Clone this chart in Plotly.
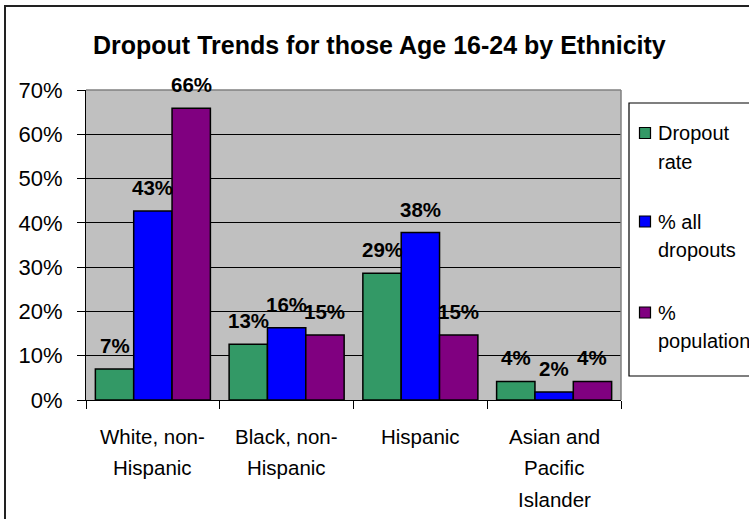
import plotly.graph_objects as go

# ---- data -------------------------------------------------------------
categories = ["White, non-Hispanic", "Black, non-Hispanic", "Hispanic",
              "Asian and Pacific Islander"]
category_lines = [["White, non-", "Hispanic"],
                  ["Black, non-", "Hispanic"],
                  ["Hispanic"],
                  ["Asian and", "Pacific", "Islander"]]

series_names = ["Dropout rate", "% all dropouts", "% population"]
legend_lines = [["Dropout", "rate"], ["% all", "dropouts"], ["%", "population"]]

dropout_rate = [0.070, 0.126, 0.286, 0.042]
pct_all_dropouts = [0.427, 0.163, 0.378, 0.018]
pct_population = [0.659, 0.147, 0.147, 0.042]
series_values = [dropout_rate, pct_all_dropouts, pct_population]

y_ticks = [0, 0.1, 0.2, 0.3, 0.4, 0.5, 0.6, 0.7]

# ---- styling ----------------------------------------------------------
colors = ["#339966", "#0000FF", "#800080"]
FONT = "Liberation Sans, Arial, Helvetica, sans-serif"
W, H = 749, 519
L, R, T, B = 86, 621, 90, 400          # plot area in pixels
BARGAP = 0.14


def px(x):
    return (x - L) / (R - L)


def py(y):
    return (B - y) / (B - T)


fig = go.Figure()
for name, vals, col in zip(series_names, series_values, colors):
    fig.add_trace(go.Bar(
        x=categories, y=vals, name=name,
        marker=dict(color=col, line=dict(color="black", width=1.5)),
        showlegend=False,
    ))

annotations = []

# value labels above each bar
bar_w = (1 - BARGAP) / len(series_names)
for j, vals in enumerate(series_values):
    for i, v in enumerate(vals):
        annotations.append(dict(
            x=i + (j - (len(series_names) - 1) / 2) * bar_w, y=v,
            xref="x", yref="y", text=f"{v:.0%}", showarrow=False,
            yanchor="bottom", yshift=10,
            font=dict(family=FONT, size=20.5, color="black", weight="bold"),
        ))

# category labels, one annotation per line
for i, lines in enumerate(category_lines):
    for k, line in enumerate(lines):
        annotations.append(dict(
            x=i, y=py(436 + k * 31.5), xref="x", yref="paper",
            text=line, showarrow=False, yanchor="middle",
            font=dict(family=FONT, size=20.5, color="black"),
        ))

# title
annotations.append(dict(
    x=px(379), y=py(45), xref="paper", yref="paper",
    text="Dropout Trends for those Age 16-24 by Ethnicity",
    showarrow=False, yanchor="middle", xanchor="center",
    font=dict(family=FONT, size=25, color="black", weight="bold"),
))

shapes = [
    # outer chart frame
    dict(type="rect", xref="paper", yref="paper",
         x0=px(5), x1=px(780), y0=py(6), y1=py(560),
         line=dict(color="#222222", width=2)),
    # top and right border of plot area
    dict(type="line", xref="paper", yref="paper", x0=0, x1=1, y0=1, y1=1,
         line=dict(color="#808080", width=1.5)),
    dict(type="line", xref="paper", yref="paper", x0=1, x1=1, y0=0, y1=1,
         line=dict(color="#808080", width=1.5)),
    # legend box
    dict(type="rect", xref="paper", yref="paper",
         x0=px(629), x1=px(790), y0=py(103), y1=py(376),
         line=dict(color="black", width=1.2), fillcolor="white"),
]

entry_top = [133, 221.5, 312.5]
for (lines, col, yc) in zip(legend_lines, colors, entry_top):
    shapes.append(dict(type="rect", xref="paper", yref="paper",
                       x0=px(639.5), x1=px(650.5), y0=py(yc - 5.5), y1=py(yc + 5.5),
                       line=dict(color="black", width=1.2), fillcolor=col))
    for k, line in enumerate(lines):
        annotations.append(dict(
            x=px(656), y=py(yc + k * 28.5), xref="paper", yref="paper",
            text=line, showarrow=False, xanchor="left", yanchor="middle",
            font=dict(family=FONT, size=20, color="black"),
        ))

fig.update_layout(
    width=W, height=H,
    margin=dict(l=L, r=W - R, t=T, b=H - B, pad=0),
    paper_bgcolor="white", plot_bgcolor="#C0C0C0",
    barmode="group", bargap=BARGAP, bargroupgap=0,
    font=dict(family=FONT, color="black"),
    annotations=annotations, shapes=shapes,
    xaxis=dict(type="category", showticklabels=False, tickson="boundaries",
               ticks="outside", ticklen=8, tickcolor="black", tickwidth=1,
               showline=True, linecolor="black", linewidth=1,
               showgrid=False, zeroline=False, fixedrange=True),
    yaxis=dict(range=[0, 0.7], tickvals=y_ticks, tickformat=".0%",
               ticks="outside", ticklen=8, tickcolor="black", tickwidth=1,
               ticklabelstandoff=10,
               tickfont=dict(family=FONT, size=22, color="black"),
               showline=True, linecolor="black", linewidth=1,
               showgrid=True, gridcolor="black", gridwidth=1,
               zeroline=False, fixedrange=True),
)

fig.write_html("out.html")
